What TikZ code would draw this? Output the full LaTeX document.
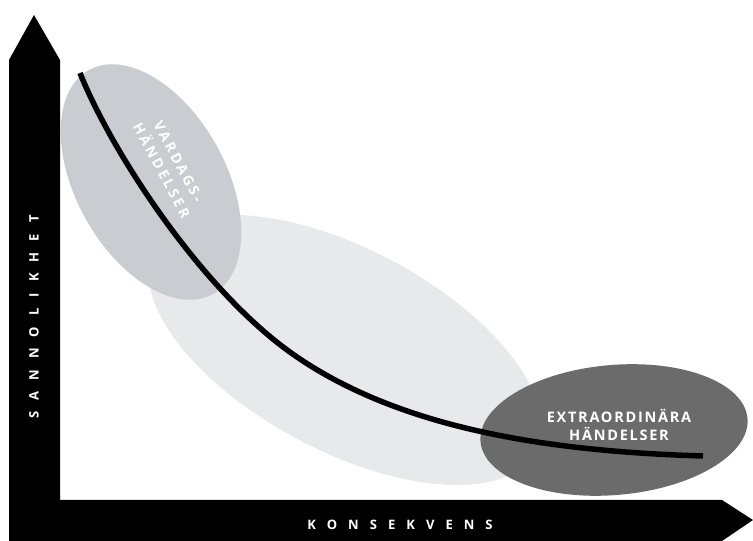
\documentclass[tikz,border=0pt]{standalone}
\usepackage{fontspec}
\setmainfont{Open Sans}
\newfontfamily\lblfont{Open Sans}
\definecolor{lightgr}{HTML}{E8E9EB}
\definecolor{midgr}{HTML}{C9CCD1}
\definecolor{darkgr}{HTML}{6A6B6A}
\tikzset{
  axisbar/.style={fill=black},
  axislabel/.style={text=white, font=\lblfont\bfseries\fontsize{13}{15}\selectfont\addfontfeature{LetterSpace=85}, inner sep=0pt},
  bloblabel/.style={text=white, align=center, inner sep=0pt,
    font=\lblfont\bfseries\fontsize{14.5}{18}\selectfont\addfontfeature{LetterSpace=12}},
  vardlabel/.style={text=white, align=center, inner sep=0pt,
    font=\lblfont\bfseries\fontsize{14}{19}\selectfont\addfontfeature{LetterSpace=20}},
  curveline/.style={line width=5.5pt, black}
}
\begin{document}
\begin{tikzpicture}[x=1pt,y=1pt]
\useasboundingbox (0,0) rectangle (753,541);
% ellipses
\fill[lightgr, rotate around={-28:(345,191)}] (345,191) ellipse [x radius=216, y radius=101];
\fill[midgr, rotate around={-61:(151,359)}] (151,359) ellipse [x radius=128, y radius=75];
\fill[darkgr, rotate around={5:(614,111)}] (614,111) ellipse [x radius=134, y radius=65];
% axes
\fill[axisbar] (9,0) -- (9,481) -- (34,526) -- (60,481) -- (60,41) -- (722,41) -- (753,21) -- (722,0) -- cycle;
\node[axislabel, rotate=90] (ylab) at (34,224) {SANNOLIKHET};
\node[axislabel] (xlab) at (400,16) {KONSEKVENS};
% curve
\coordinate (c0) at (80,468);
\coordinate (cm) at (297,184);
\coordinate (c1) at (703,85);
\draw[curveline] (c0) .. controls (112,388) and (204,247) .. (cm)
  .. controls (404.4,110.8) and (553,89.5) .. (c1);
% labels
\node[vardlabel, rotate=-62] (vard) at (170,375) {VARDAGS-\\HÄNDELSER};
\node[bloblabel] (extra) at (619,116) {EXTRAORDINÄRA\\HÄNDELSER};
\end{tikzpicture}
\end{document}
